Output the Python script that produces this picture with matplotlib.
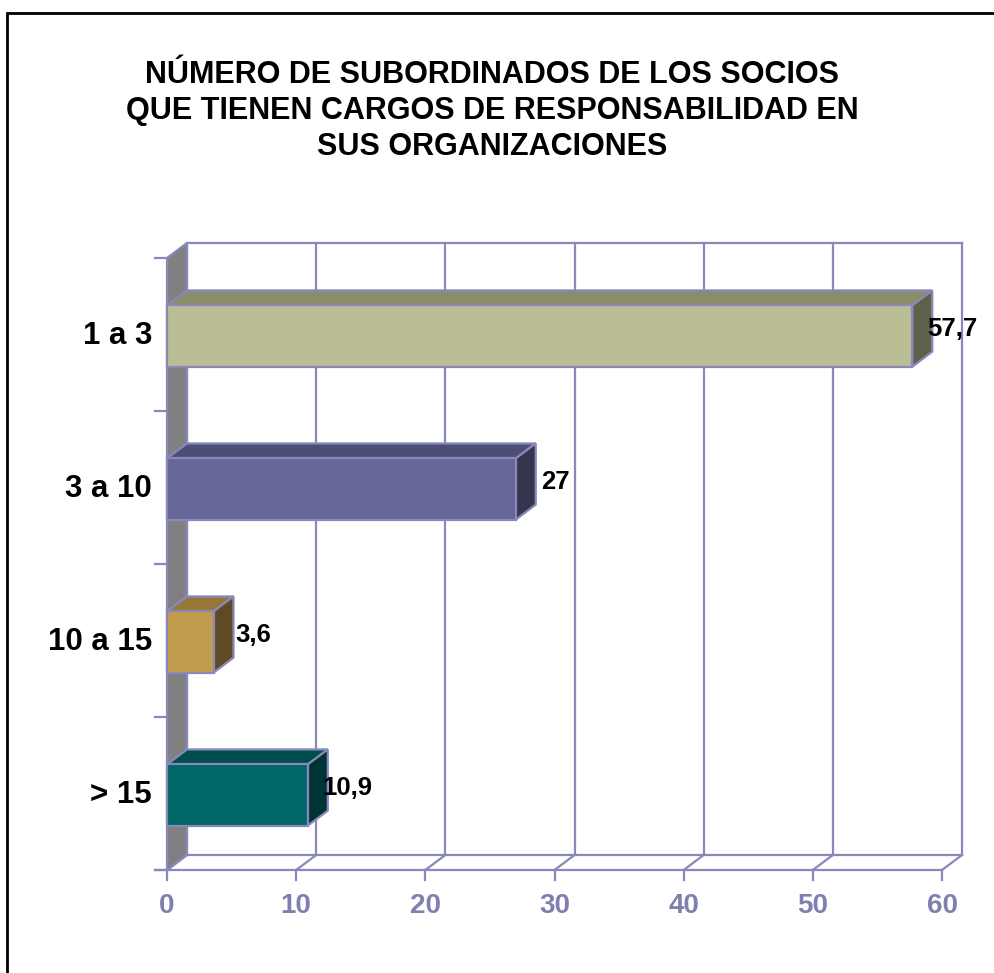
import matplotlib
matplotlib.use('Agg')
import matplotlib.pyplot as plt
from matplotlib.patches import Polygon, Rectangle

plt.rcParams['font.family'] = ['Liberation Sans', 'DejaVu Sans']

categories = ['1 a 3', '3 a 10', '10 a 15', '> 15']
values = [57.7, 27, 3.6, 10.9]
value_labels = ['57,7', '27', '3,6', '10,9']
x_ticks = [0, 10, 20, 30, 40, 50, 60]

front_colors = ['#BBBE94', '#666699', '#C19C4C', '#006666']
top_colors = ['#8A8C6A', '#4D4D75', '#957838', '#004D4D']
side_colors = ['#5E604A', '#35354F', '#5E4B25', '#003333']

line_col = '#8888BB'
tick_col = '#8080B0'

fig = plt.figure(figsize=(9.94, 9.73), dpi=100)

# outer border
fig.patches.append(Rectangle((7 / 994, -0.1), 1.2, (973 - 13) / 973 + 0.1,
                             transform=fig.transFigure, fill=False,
                             edgecolor='black', linewidth=2))

# title
fig.text(492 / 994, 1 - 111 / 973,
         'NÚMERO DE SUBORDINADOS DE LOS SOCIOS\nQUE TIENEN CARGOS DE RESPONSABILIDAD EN\nSUS ORGANIZACIONES',
         ha='center', va='center', fontsize=22, fontweight='bold',
         linespacing=1.27)

# axes in data units: x = value, y = category index (0 at top)
px = 12.9167  # pixels per unit
ax = fig.add_axes([167 / 994, 103 / 973, 800 / 994, 627 / 973])
xmax = 800 / px
DX = 20 / px
DY = -15 / 153
ax.set_xlim(0, xmax)
ax.set_ylim(len(categories), DY)
ax.axis('off')

n = len(categories)
x_end = x_ticks[-1]

# left wall
ax.add_patch(Polygon([(0, 0), (DX, DY), (DX, n + DY), (0, n)],
                     closed=True, facecolor='#808080', edgecolor=line_col,
                     linewidth=1.6, clip_on=False, zorder=1))

# back wall grid
for t in x_ticks:
    ax.plot([t + DX, t + DX], [n + DY, DY], color=line_col, lw=1.6,
            clip_on=False, zorder=1)
    # floor diagonal
    ax.plot([t, t + DX], [n, n + DY], color=line_col, lw=1.6,
            clip_on=False, zorder=1)
    # tick mark
    ax.plot([t, t], [n, n + 10 / 153], color=line_col, lw=1.6,
            clip_on=False, zorder=1)
    ax.text(t, n + 36 / 153, str(t), ha='center', va='center',
            fontsize=20, fontweight='bold', color=tick_col)

ax.plot([DX, x_end + DX], [DY, DY], color=line_col, lw=1.6, clip_on=False, zorder=1)
ax.plot([DX, x_end + DX], [n + DY, n + DY], color=line_col, lw=1.6, clip_on=False, zorder=1)
ax.plot([-12 / px, x_end], [n, n], color=line_col, lw=1.6, clip_on=False, zorder=1)

# left ticks
for k in range(n + 1):
    ax.plot([-12 / px, 0], [k, k], color=line_col, lw=1.6, clip_on=False, zorder=1)

# bars
y0_off, y1_off = 0.31, 0.71
for i, (cat, v) in enumerate(zip(categories, values)):
    y0 = i + y0_off
    y1 = i + y1_off
    ax.add_patch(Polygon([(0, y0), (DX, y0 + DY), (v + DX, y0 + DY), (v, y0)],
                         closed=True, facecolor=top_colors[i], edgecolor=line_col,
                         linewidth=1.6, zorder=3, clip_on=False))
    ax.add_patch(Polygon([(v, y0), (v + DX, y0 + DY), (v + DX, y1 + DY), (v, y1)],
                         closed=True, facecolor=side_colors[i], edgecolor=line_col,
                         linewidth=1.6, zorder=3, clip_on=False))
    ax.add_patch(Polygon([(0, y0), (v, y0), (v, y1), (0, y1)],
                         closed=True, facecolor=front_colors[i], edgecolor=line_col,
                         linewidth=1.6, zorder=4, clip_on=False))
    ax.text(v + DX + 20 / px, (y0 + y1) / 2 + DY / 2, value_labels[i],
            ha='center', va='center', fontsize=18.5, fontweight='bold', zorder=5)
    ax.text(-15 / px, (y0 + y1) / 2, cat, ha='right', va='center',
            fontsize=22.5, fontweight='bold')

fig.savefig('out.png', dpi=100)
